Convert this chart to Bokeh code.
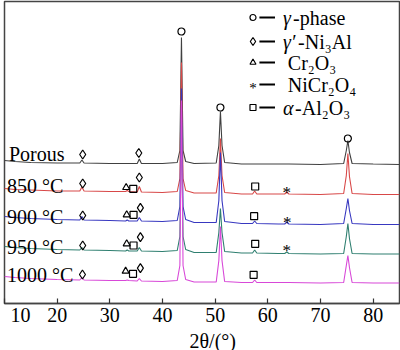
from bokeh.plotting import figure
from bokeh.models import Range1d, FixedTicker, Title
from bokeh.core.properties import value
from bokeh.embed import file_html
from bokeh.resources import INLINE

# ---------------- data ----------------
two_theta = [10, 12, 15, 20, 24.3, 24.7, 25.1, 30, 33.0, 33.3, 33.6, 35.2, 35.6, 36.0,
             40, 42.8, 43.3, 43.6, 43.9, 44.4, 46, 50.2, 50.7, 51.0, 51.3, 51.8, 55,
             57.1, 57.5, 57.9, 62, 63.2, 63.6, 64.0, 70, 74.4, 74.9, 75.2, 75.5, 76.0, 80, 85]

# stacked intensities (a.u.)
porous = [143, 142, 141, 140.5, 140.5, 143.5, 140.5, 140, 140, 140, 140, 140, 144.5, 140,
          140, 141, 153, 266, 153, 142, 140, 140.5, 158, 192, 158, 141, 139.5,
          139.5, 139.5, 139.5, 139.5, 139.5, 139.5, 139.5, 139, 140, 153, 163, 151, 140, 139.5, 139]
t850 = [115, 114, 113.5, 112.5, 112.5, 116.5, 112.5, 112, 112, 113, 112, 111.5, 117, 111.5,
        111, 112, 125, 241, 125, 113, 110.5, 110.5, 128, 165, 128, 111, 109.5,
        109.5, 112.5, 109.5, 109.5, 109.5, 111.5, 109.5, 109, 110, 128, 150, 127, 110, 109, 109]
t900 = [87, 86, 85, 84, 83.5, 87, 83.5, 83, 82.5, 83.5, 82.5, 82.5, 86, 82.5,
        82, 83, 97, 215, 97, 84, 81, 81, 103, 151, 103, 82, 80,
        80, 82.5, 80, 79.5, 79.5, 81.5, 79.5, 79, 80, 95, 105, 93, 80, 79, 79]
t950 = [57, 56, 55, 54, 53.5, 56, 53.5, 53, 52.5, 53.5, 52.5, 52.5, 56, 52.5,
        52, 53, 67, 183, 67, 54, 51, 51, 71, 95, 71, 52, 50.5,
        50.5, 53.5, 50.5, 50, 50, 51.5, 50, 49.5, 50, 67, 80, 65, 50, 49.5, 49.5]
t1000 = [27, 26, 25, 24, 23.5, 26, 23.5, 23, 23, 23.5, 23, 22.5, 25, 22.5,
         22, 23, 38, 203, 38, 24, 21.5, 21.5, 43, 77, 43, 22, 21,
         21, 23.5, 21, 21, 21, 21, 21, 20.5, 21, 38, 48, 36, 21, 20.5, 20.5]

series = [porous, t850, t900, t950, t1000]
series_names = ["Porous", "850 °C", "900 °C", "950 °C", "1000 °C"]
series_colors = ["#404040", "#d84848", "#3838c0", "#2f7f70", "#d848d8"]

# phase markers (2θ, a.u.)
gamma_x = [43.6, 51.0, 75.2]
gamma_y = [272, 196, 165]
gp_x = [24.85, 35.5, 24.85, 35.6, 24.85, 35.8, 24.85, 35.8, 24.8, 35.8]
gp_y = [149, 150.5, 120, 126, 88, 95.7, 58, 66.3, 29, 35.3]
cr2o3_x = [33.1, 33.2, 33.2, 33.0]
cr2o3_y = [116, 88.7, 59.7, 32.3]
nicr_x = [63.6, 63.7, 63.6]
nicr_y = [115.3, 85.3, 57.3]
al2o3_x = [34.45, 57.6, 34.5, 57.4, 34.5, 57.6, 34.4, 57.3]
al2o3_y = [114.7, 117, 88.7, 87.3, 58, 59.7, 29.7, 28.7]

tick_values = [10, 20, 30, 40, 50, 60, 70, 80]
legend_labels = ["-phase", "-Ni₃Al", "Cr₂O₃", "NiCr₂O₄", "-Al₂O₃"]
x_title = "2θ/(°)"

# ---------------- figure ----------------
FONT = "Liberation Serif"
AXFONT = "LiberationSerif"
p = figure(width=400, height=350, x_range=Range1d(10, 85), y_range=Range1d(0, 302),
           output_backend="svg", toolbar_location=None,
           min_border_left=4, min_border_right=1, min_border_top=1, min_border_bottom=0)
p.background_fill_color = "white"
p.border_fill_color = "white"
p.outline_line_color = "#444444"
p.outline_line_width = 1.5
p.grid.visible = False
p.yaxis.visible = False

ax = p.xaxis[0]
ax.ticker = FixedTicker(ticks=tick_values)
ax.major_label_overrides = {10: "\u00a0\u00a010"}
ax.major_tick_in = 5
ax.major_tick_out = 0
ax.minor_tick_line_color = None
ax.axis_line_color = "#444444"
ax.axis_line_width = 1.5
ax.major_tick_line_color = "#333333"
ax.major_tick_line_width = 1.2
ax.major_label_text_font = AXFONT
ax.major_label_text_font_size = "20px"
ax.major_label_text_color = "black"
ax.major_label_standoff = 0

t = Title(text=x_title, align="left", offset=185, text_font=AXFONT,
          text_font_size="20px", text_font_style="normal", text_color="black", standoff=-2)
p.add_layout(t, "below")

for vals, col in zip(series, series_colors):
    p.line(two_theta, vals, line_color=col, line_width=1.1)

mk = dict(fill_color=None, line_color="black", line_width=1.2)
p.scatter(gamma_x, gamma_y, marker="circle", size=7, **mk)
p.scatter(gp_x, gp_y, marker="diamond", size=9, **mk)
p.scatter(cr2o3_x, cr2o3_y, marker="triangle", size=7, **mk)
p.scatter(al2o3_x, al2o3_y, marker="square", size=7, **mk)
p.text(nicr_x, nicr_y, text=["*"] * len(nicr_x), text_font=value(FONT), text_font_size="17px",
       text_baseline="middle", text_align="center", y_offset=4, text_color="black")

# curve labels
lab_x = [10.85, 10.47, 10.47, 10.47, 10.47]
lab_y = [150, 118, 86.3, 56.3, 29]
p.text(lab_x, lab_y, text=series_names, text_font=value(FONT), text_font_size="20px",
       text_baseline="alphabetic", text_align="left", text_color="black")

# legend
leg_y = [286, 262, 241, 219, 196]
markers = ["circle", "diamond", "triangle", None, "square"]
msz = [6, 8, 6, 0, 6]
for yy, m, s in zip(leg_y, markers, msz):
    if m is not None:
        p.scatter([57.18], [yy], marker=m, size=s, **mk)
    else:
        p.text([57.18], [yy], text=["*"], text_font=value(FONT), text_font_size="15px",
               text_baseline="middle", text_align="center", y_offset=3, text_color="black")
p.segment(x0=[58.4] * 5, y0=leg_y, x1=[61.36] * 5, y1=leg_y, line_color="black", line_width=2)

greek = ["γ", "γ′", None, None, "α"]
offs = [10, 15, 0, 0, 12]
for yy, g, tx, o in zip(leg_y, greek, legend_labels, offs):
    if g is not None:
        p.text([62.9], [yy], text=[g], text_font=value(FONT), text_font_size="20px",
               text_font_style="italic", text_baseline="middle", text_align="left")
        p.text([62.9], [yy], text=[tx], x_offset=o, text_font=value(FONT), text_font_size="20px",
               text_baseline="middle", text_align="left")
    else:
        p.text([63.8], [yy], text=[tx], text_font=value(FONT), text_font_size="20px",
               text_baseline="middle", text_align="left")

open("out.html", "w").write(file_html(p, INLINE))
